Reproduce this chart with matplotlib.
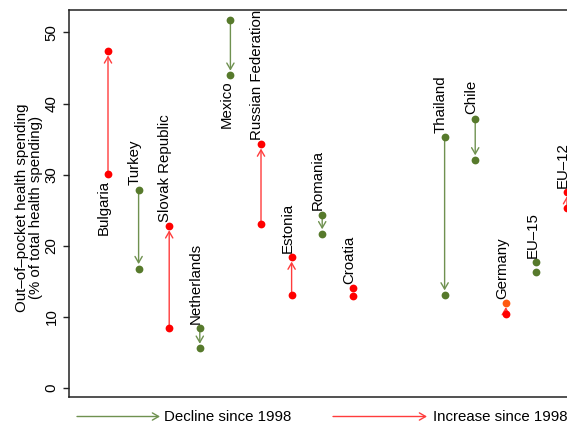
import matplotlib
matplotlib.use("Agg")
import matplotlib.pyplot as plt
from matplotlib.patches import FancyArrowPatch

plt.rcParams["font.family"] = ["Liberation Sans", "DejaVu Sans"]

# Out-of-pocket share of total health spending, 1998 vs latest year
countries = ["Bulgaria", "Turkey", "Slovak Republic", "Netherlands", "Mexico",
             "Russian Federation", "Estonia", "Romania", "Croatia",
             "Thailand", "Chile", "Germany", "EU\u201315", "EU\u201312"]
oop_1998 = [30.1, 27.9, 8.4, 8.4, 51.7, 23.0, 13.1, 24.4, 12.9,
            35.3, 37.9, 10.4, 17.7, 25.3]
oop_latest = [47.4, 16.8, 22.8, 5.6, 44.0, 34.3, 18.4, 21.7, 14.0,
              13.1, 32.1, 12.0, 16.3, 27.6]
# labels drawn under the lower point instead of above the upper one
labels_below = ["Bulgaria", "Mexico"]
yticks = [0, 10, 20, 30, 40, 50]

GREEN_DOT = "#577a2c"
GREEN_LINE = "#6f9150"
RED_DOT = "#ff0000"
RED_LINE = "#ff3c3c"
GERMANY_DOT = "#ff5a10"
FS = 10.8

W, H = 567, 423
fig = plt.figure(figsize=(W / 100, H / 100), dpi=100)
ax_l, ax_r, ax_b, ax_t = 69, 640, 397, 10
ax = fig.add_axes([ax_l / W, 1 - ax_b / H, (ax_r - ax_l) / W, (ax_b - ax_t) / H])

# slot positions: a two-slot gap separates the first group from the rest
gap_after = "Croatia"
xpos = []
slot = 1
for c in countries:
    xpos.append(slot)
    slot += 3 if c == gap_after else 1

ax.set_xlim(-0.2745, 18.385)
ax.set_ylim(-1.266, 53.16)

for x, name, a, b in zip(xpos, countries, oop_1998, oop_latest):
    up = b > a
    dot = RED_DOT if up else GREEN_DOT
    line = RED_LINE if up else GREEN_LINE
    if abs(b - a) > 1.5:
        arr = FancyArrowPatch((x, a), (x, b), arrowstyle="->,head_length=4.5,head_width=2.6",
                              color=line, lw=1.0, shrinkA=0, shrinkB=3.2, zorder=2,
                              mutation_scale=1)
        ax.add_patch(arr)
    ax.plot([x], [a], "o", color=dot, ms=5.6, mec="none", zorder=3)
    end_col = GERMANY_DOT if name == "Germany" else dot
    ax.plot([x], [b], "o", color=end_col, ms=5.6, mec="none", zorder=4)
    if name in labels_below:
        ax.annotate(name, (x, min(a, b)), xytext=(0, -4), textcoords="offset points",
                    rotation=90, rotation_mode="anchor", ha="right", va="baseline",
                    fontsize=FS, color="black")
    else:
        ax.annotate(name, (x, max(a, b)), xytext=(0, 3), textcoords="offset points",
                    rotation=90, rotation_mode="anchor", ha="left", va="baseline",
                    fontsize=FS, color="black")

for side in ["left", "bottom", "top", "right"]:
    ax.spines[side].set_linewidth(1.1)
    ax.spines[side].set_color("#222222")

ax.set_xticks([])
ax.set_yticks(yticks)
ax.set_yticklabels([str(t) for t in yticks], rotation=90, va="center", fontsize=FS)
ax.tick_params(axis="y", length=4.5, width=1.0, color="#222222", pad=3)

fig.text(29 / W, 1 - 207.5 / H,
         "Out\u2013of\u2013pocket health spending\n(% of total health spending)",
         rotation=90, ha="center", va="center", multialignment="center",
         fontsize=FS, linespacing=1.05)

# legend keys
ly = 1 - 416.5 / H
fig.add_artist(FancyArrowPatch((77 / W, ly), (160 / W, ly), transform=fig.transFigure,
                               arrowstyle="->,head_length=4.5,head_width=2.6",
                               mutation_scale=1, color=GREEN_LINE, lw=1.0,
                               shrinkA=0, shrinkB=0))
fig.text(164 / W, ly, "Decline since 1998", ha="left", va="center", fontsize=FS)
fig.add_artist(FancyArrowPatch((333 / W, ly), (427 / W, ly), transform=fig.transFigure,
                               arrowstyle="->,head_length=4.5,head_width=2.6",
                               mutation_scale=1, color=RED_LINE, lw=1.0,
                               shrinkA=0, shrinkB=0))
fig.text(433 / W, ly, "Increase since 1998", ha="left", va="center", fontsize=FS)

fig.savefig("out.png", dpi=100)
